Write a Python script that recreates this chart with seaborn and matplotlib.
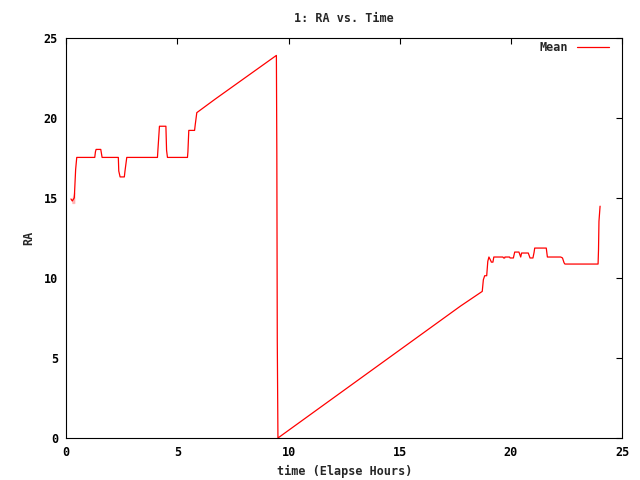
import matplotlib
matplotlib.use('Agg')
import matplotlib.pyplot as plt
import seaborn as sns
import pandas as pd

# Elapsed hours and mean RA
hours = [0.21, 0.27, 0.27, 0.36, 0.36, 0.42, 0.47, 1.28, 1.31, 1.34, 1.55, 1.61,
         2.34, 2.36, 2.42, 2.61, 2.64, 2.72, 4.10, 4.12, 4.19, 4.48, 4.51, 4.55,
         5.45, 5.47, 5.51, 5.77, 5.80, 5.87, 6.70, 9.45, 9.47, 9.49, 9.52,
         17.73, 18.71, 18.76, 18.82, 18.91, 18.96, 19.01, 19.09, 19.12, 19.19,
         19.23, 19.64, 19.67, 19.72, 19.73, 19.94, 19.96, 20.11, 20.17, 20.36,
         20.44, 20.48, 20.78, 20.86, 20.99, 21.04, 21.07, 21.59, 21.64, 22.24,
         22.32, 22.39, 22.43, 23.92, 23.94, 23.96, 24.01]
ra_mean = [14.95, 14.95, 14.7, 14.7, 15.35, 16.8, 17.55, 17.55, 17.9, 18.05, 18.05, 17.55,
           17.55, 16.7, 16.33, 16.33, 16.7, 17.55, 17.55, 18.0, 19.5, 19.5, 18.0, 17.55,
           17.55, 17.9, 19.24, 19.24, 19.6, 20.35, 21.2, 23.93, 17.8, 6.1, 0.0,
           8.25, 9.17, 9.9, 10.15, 10.15, 11.05, 11.32, 11.1, 11.0, 11.0,
           11.32, 11.32, 11.26, 11.26, 11.32, 11.32, 11.26, 11.26, 11.63, 11.63,
           11.32, 11.57, 11.57, 11.26, 11.26, 11.6, 11.88, 11.88, 11.32, 11.32,
           11.26, 10.96, 10.88, 10.88, 11.78, 13.55, 14.5]

df = pd.DataFrame({'hours': hours, 'Mean': ra_mean})

sns.set_style('white')
plt.rcParams['font.family'] = ['DejaVu Sans Mono']
plt.rcParams['font.weight'] = 'bold'

fig = plt.figure(figsize=(6.4, 4.8), dpi=100)
ax = fig.add_axes([0.1036, 0.0875, 0.8684, 0.8327])

sns.lineplot(data=df, x='hours', y='Mean', color='red', linewidth=0.9,
             label='Mean', sort=False, ax=ax)

ax.set_xlim(0, 25)
ax.set_ylim(0, 25)
ax.set_xticks(range(0, 26, 5))
ax.set_yticks(range(0, 26, 5))
ax.tick_params(direction='in', length=4, width=0.8, top=True, right=True,
               labelsize=8.5, pad=6, colors='black')
for s in ax.spines.values():
    s.set_color('black')
    s.set_linewidth(0.8)

ax.set_title('1: RA vs. Time', fontsize=8.5, fontweight='bold', pad=12)
ax.set_xlabel('time (Elapse Hours)', fontsize=8.5, fontweight='bold', labelpad=4)
ax.set_ylabel('RA', fontsize=8.5, fontweight='bold', labelpad=6)

leg = ax.legend(loc='upper right', frameon=False, markerfirst=False,
                fontsize=8.5, handlelength=2.7, borderaxespad=0.0,
                bbox_to_anchor=(0.985, 1.005))

fig.savefig('out.png', dpi=100)
